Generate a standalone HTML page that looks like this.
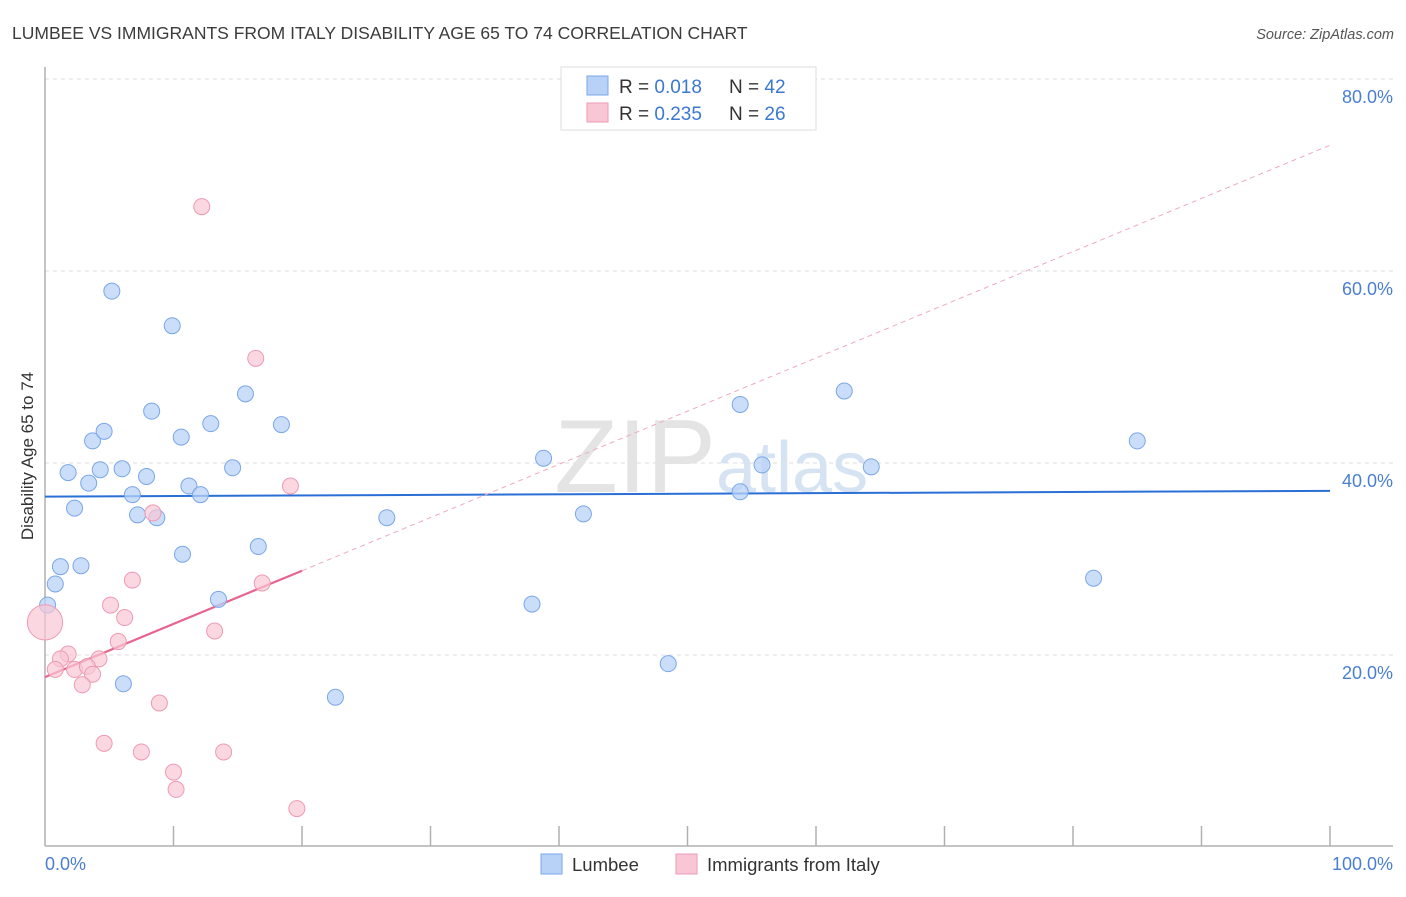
<!DOCTYPE html>
<html><head><meta charset="utf-8"><style>
body{margin:0;background:#fff;font-family:"Liberation Sans",sans-serif;}
svg text{font-family:"Liberation Sans",sans-serif;}
</style></head><body>
<svg id="chart" width="1406" height="892">
<text x="12" y="39" font-size="17.5" fill="#3c3c3c">LUMBEE VS IMMIGRANTS FROM ITALY DISABILITY AGE 65 TO 74 CORRELATION CHART</text>
<text x="1394" y="39" font-size="14.5" fill="#555" text-anchor="end" font-style="italic">Source: ZipAtlas.com</text>
<g id="grid"></g>
<text x="716" y="492" font-size="104" fill="#e4e4e4" text-anchor="end" font-family="Liberation Serif">ZIP</text>
<text x="716" y="492" font-size="72" fill="#d6e3f3">atlas</text>
<line x1="45" y1="67" x2="45" y2="846" stroke="#b0b0b0" stroke-width="1.5"/>
<line x1="45" y1="846" x2="1393" y2="846" stroke="#b0b0b0" stroke-width="1.5"/>
<text transform="translate(33,456) rotate(-90)" font-size="17" fill="#333" text-anchor="middle">Disability Age 65 to 74</text>
<text x="45" y="870" font-size="18" fill="#4a7fd0">0.0%</text>
<text x="1393" y="870" font-size="18" fill="#4a7fd0" text-anchor="end">100.0%</text>
<g id="trends"></g>
<g id="points"></g>
<g>
<rect x="561" y="67" width="255" height="63" fill="#fff" stroke="#ddd"/>
<rect x="587" y="76" width="21" height="19" fill="#b8d2f7" stroke="#7aa7e8"/>
<rect x="587" y="103" width="21" height="19" fill="#f9c6d5" stroke="#ee9ab3"/>
<text x="619" y="93" font-size="19" fill="#333">R = <tspan fill="#3b78d0">0.018</tspan></text>
<text x="729" y="93" font-size="19" fill="#333">N = <tspan fill="#3b78d0">42</tspan></text>
<text x="619" y="120" font-size="19" fill="#333">R = <tspan fill="#3b78d0">0.235</tspan></text>
<text x="729" y="120" font-size="19" fill="#333">N = <tspan fill="#3b78d0">26</tspan></text>
</g>
<g>
<rect x="541" y="854" width="21" height="20" fill="#b8d2f7" stroke="#7aa7e8"/>
<text x="572" y="871" font-size="18.5" fill="#333">Lumbee</text>
<rect x="676" y="854" width="21" height="20" fill="#f9c6d5" stroke="#ee9ab3"/>
<text x="707" y="871" font-size="18.5" fill="#333">Immigrants from Italy</text>
</g>
</svg>
<script>
const yTicks=[20,40,60,80];
const yTickLabels=["20.0%","40.0%","60.0%","80.0%"];
const xTicks=[10,20,30,40,50,60,70,80,90,100];
const blueX=[5.2,9.9,8.3,15.6,10.6,12.9,18.4,3.7,4.6,1.8,4.3,6.0,3.4,7.9,14.6,11.2,6.8,12.1,2.3,7.2,8.7,10.7,16.6,1.2,2.8,0.8,0.2,13.5,6.1,22.6,26.6,38.8,41.9,37.9,48.5,54.1,55.8,54.1,62.2,64.3,85.0,81.6];
const blueY=[57.9,54.3,45.4,47.2,42.7,44.1,44.0,42.3,43.3,39.0,39.3,39.4,37.9,38.6,39.5,37.6,36.7,36.7,35.3,34.6,34.3,30.5,31.3,29.2,29.3,27.4,25.2,25.8,17.0,15.6,34.3,40.5,34.7,25.3,19.1,46.1,39.8,37.0,47.5,39.6,42.3,28.0];
const pinkX=[12.2,16.4,19.1,8.4,6.8,16.9,5.1,6.2,13.2,5.7,0,1.8,1.2,4.2,0.8,2.3,3.3,3.7,2.9,8.9,4.6,7.5,13.9,10.0,10.2,19.6];
const pinkY=[66.7,50.9,37.6,34.8,27.8,27.5,25.2,23.9,22.5,21.4,23.4,20.1,19.6,19.6,18.5,18.5,18.8,18.0,16.9,15.0,10.8,9.9,9.9,7.8,6.0,4.0];
const pinkSize=[1,1,1,1,1,1,1,1,1,1,2.2,1,1,1,1,1,1,1,1,1,1,1,1,1,1,1];
const blueTrend=[36.5,37.1];
const pinkTrend=[17.7,73.1];
const NS="http://www.w3.org/2000/svg";
const X=v=>45+v*12.85, Y=v=>847-v*9.6;
function mk(t,a,p){const e=document.createElementNS(NS,t);for(const k in a)e.setAttribute(k,a[k]);p.appendChild(e);return e;}
const grid=document.getElementById('grid');
yTicks.forEach((t,i)=>{
 const l=mk('line',{x1:45,x2:1393,y1:Y(t),y2:Y(t),stroke:'#dcdcdc','stroke-dasharray':'4,4'},grid);
 
 
 const tx=mk('text',{x:1393,y:Y(t)+24,'font-size':18,fill:'#4a7fd0','text-anchor':'end'},grid);
 tx.textContent=yTickLabels[i];
 
 
});
xTicks.forEach(t=>{
 const l=mk('line',{x1:X(t),x2:X(t),y1:826,y2:846,stroke:'#b0b0b0','stroke-width':1.5},grid);
 
 
});
const tr=document.getElementById('trends');
const bl=mk('line',{x1:X(0),y1:Y(blueTrend[0]),x2:X(100),y2:Y(blueTrend[1]),stroke:'#2a6fd6','stroke-width':2},tr);


const py=x=>pinkTrend[0]+(pinkTrend[1]-pinkTrend[0])*x/100;
const pd=mk('line',{x1:X(20),y1:Y(py(20)),x2:X(100),y2:Y(py(100)),stroke:'#eeaac0','stroke-width':1,'stroke-dasharray':'5,4'},tr);


const ps=mk('line',{x1:X(0),y1:Y(py(0)),x2:X(20),y2:Y(py(20)),stroke:'#e8648f','stroke-width':2.2},tr);


const pts=document.getElementById('points');
blueX.forEach((x,i)=>{
 const c=mk('circle',{cx:X(x),cy:Y(blueY[i]),r:8,fill:'#b8d2f7','fill-opacity':0.75,stroke:'#7aa7e8','stroke-width':1},pts);
 
 
});
pinkX.forEach((x,i)=>{
 const c=mk('circle',{cx:X(x),cy:Y(pinkY[i]),r:8*pinkSize[i],fill:'#f9c6d5','fill-opacity':0.7,stroke:'#ee9ab3','stroke-width':1},pts);
 
 
});
</script>
</body></html>
